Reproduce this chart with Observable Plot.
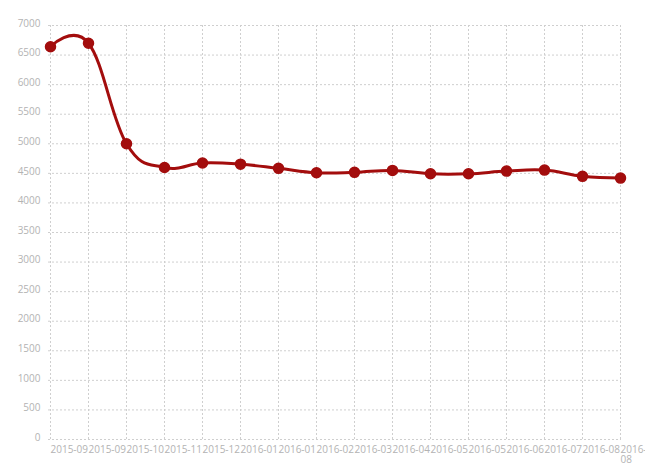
<!DOCTYPE html>
<html>
<head>
<meta charset="utf-8">
<script src="https://cdn.jsdelivr.net/npm/d3@7"></script>
<script src="https://cdn.jsdelivr.net/npm/@observablehq/plot@0.6"></script>
<style>
  html, body { margin: 0; padding: 0; background: #fff; }
  #chart { width: 645px; height: 469px; overflow: hidden; }
</style>
</head>
<body>
<div id="chart"></div>
<script>
const labels = ["2015-09","2015-09","2015-10","2015-11","2015-12","2016-01","2016-01","2016-02","2016-03","2016-04","2016-05","2016-05","2016-06","2016-07","2016-08","2016-08"];
const values = [6640, 6700, 5000, 4600, 4675, 4655, 4585, 4510, 4517, 4550, 4493, 4493, 4538, 4555, 4450, 4420];
const yTicks = [0,500,1000,1500,2000,2500,3000,3500,4000,4500,5000,5500,6000,6500,7000];

const data = values.map((v, i) => ({i, v}));
const idx = d3.range(labels.length);
const lineColor = "#a30d0d";
const gridColor = "#cfcfcf";
const textColor = "#b3b3b3";

const chart = Plot.plot({
  width: 645,
  height: 469,
  marginLeft: 48,
  marginRight: 24,
  marginTop: 25,
  marginBottom: 30,
  style: {fontFamily: "'Open Sans', sans-serif", fontSize: "10px", color: textColor, background: "#fff"},
  x: {type: "point", domain: idx, padding: 0},
  y: {domain: [0, 7000]},
  marks: [
    Plot.gridY(yTicks, {stroke: gridColor, strokeOpacity: 1, strokeDasharray: "2,2"}),
    Plot.gridX(idx, {stroke: gridColor, strokeOpacity: 1, strokeDasharray: "2,2"}),
    Plot.axisY(yTicks, {tickSize: 0, tickPadding: 8, dy: -2, label: null, fill: textColor, tickFormat: d => String(d)}),
    Plot.axisX(idx, {tickSize: 0, tickPadding: 6, textAnchor: "start", dx: 0, label: null, fill: textColor, lineHeight: 1,
      tickFormat: i => i === labels.length - 1 ? "2016-\n08" : labels[i]}),
    Plot.line(data, {x: "i", y: "v", curve: "cardinal", tension: -0.2, stroke: lineColor, strokeWidth: 3}),
    Plot.dot(data, {x: "i", y: "v", r: 5, fill: lineColor, stroke: lineColor})
  ]
});
document.getElementById("chart").appendChild(chart);
</script>
</body>
</html>
